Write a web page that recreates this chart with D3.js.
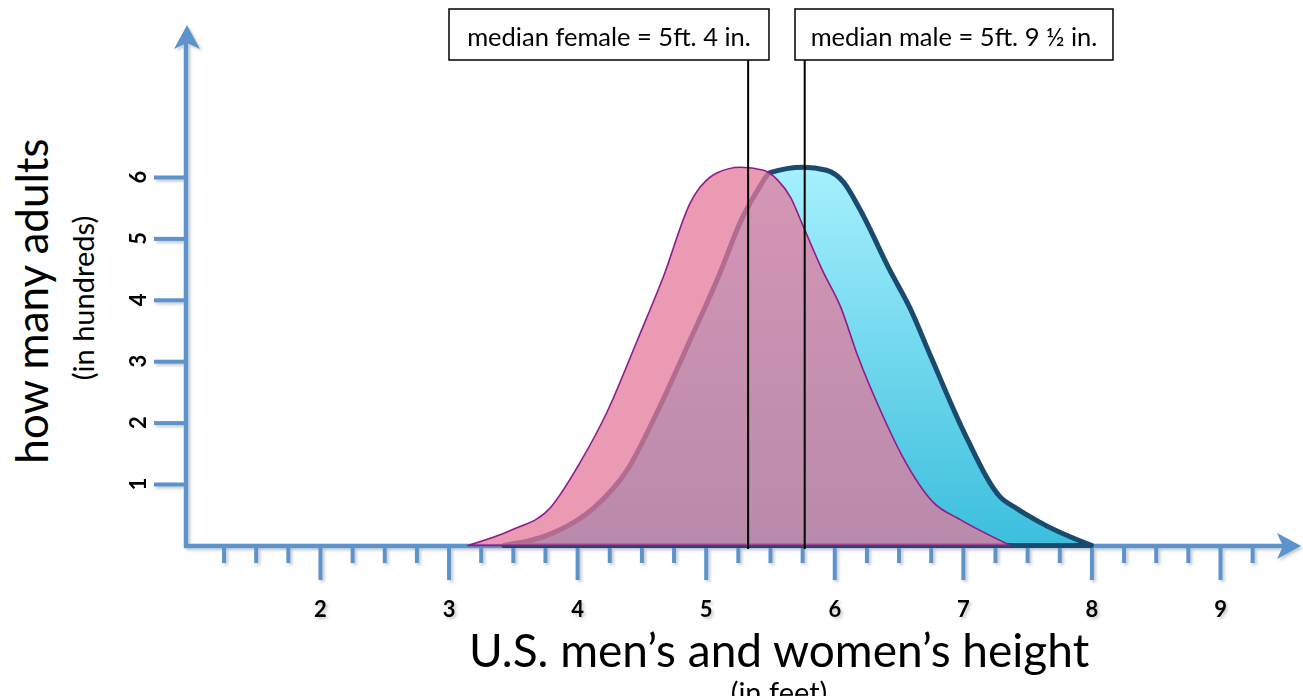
<!DOCTYPE html>
<html><head><meta charset="utf-8">
<script src="https://cdn.jsdelivr.net/npm/d3@7"></script>
<style>html,body{margin:0;padding:0;background:#fff;overflow:hidden}</style>
</head><body>
<svg id="c" width="1303" height="696"></svg>
<script>
// ---- data ----
const xTickValues = [2, 3, 4, 5, 6, 7, 8, 9];
const xTickLabels = ["2", "3", "4", "5", "6", "7", "8", "9"];
const yTickValues = [1, 2, 3, 4, 5, 6];
const yTickLabels = ["1", "2", "3", "4", "5", "6"];
const femaleHeight = [3.15, 3.49, 3.79, 4.02, 4.23, 4.47, 4.67, 4.88, 5.09, 5.27, 5.45, 5.56, 5.66, 5.76, 5.91, 6.05, 6.18, 6.38, 6.53, 6.77, 6.98, 7.37];
const femaleCount  = [0.00, 0.25, 0.61, 1.34, 2.16, 3.35, 4.37, 5.58, 6.07, 6.16, 6.11, 5.95, 5.67, 5.19, 4.47, 3.88, 3.10, 2.10, 1.45, 0.70, 0.42, 0.00];
const maleHeight = [3.43, 3.81, 4.13, 4.39, 4.62, 4.88, 5.09, 5.29, 5.42, 5.50, 5.76, 5.94, 6.07, 6.20, 6.43, 6.59, 6.75, 7.03, 7.29, 7.42, 7.64, 8.00];
const maleCount  = [0.00, 0.20, 0.61, 1.23, 2.16, 3.35, 4.33, 5.36, 5.84, 6.07, 6.16, 6.11, 5.92, 5.47, 4.49, 3.86, 3.08, 1.75, 0.79, 0.60, 0.33, 0.00];
const medianLabels = ["median female = 5ft. 4 in.", "median male = 5ft. 9 \u00BD in."];
const medianValues = [5.33, 5.77];
const xTitle = "U.S. men\u2019s and women\u2019s height";
const xSubtitle = "(in feet)";
const yTitle = "how many adults";
const ySubtitle = "(in hundreds)";

// ---- layout ----
const FONT = "Lato, 'Open Sans', sans-serif";
const AXIS = "#5b93cb";
const svg = d3.select("#c");
const x = d3.scaleLinear().domain([1, 9]).range([191.4, 1220]);
const y = d3.scaleLinear().domain([0, 6]).range([545.4, 177]);
const originX = 186, originY = 546;

const defs = svg.append("defs");
const f = defs.append("filter").attr("id", "sh").attr("x", "-5%").attr("y", "-5%").attr("width", "110%").attr("height", "110%");
f.append("feDropShadow").attr("dx", 2).attr("dy", 2).attr("stdDeviation", 1.5).attr("flood-color", "#000").attr("flood-opacity", 0.22);
const g = defs.append("linearGradient").attr("id", "blueGrad").attr("gradientUnits", "userSpaceOnUse")
  .attr("x1", 0).attr("x2", 0).attr("y1", y(6.16)).attr("y2", originY);
g.append("stop").attr("offset", "0%").attr("stop-color", "#a6f0fd");
g.append("stop").attr("offset", "100%").attr("stop-color", "#3bbfdd");

// ---- axes ----
const ax = svg.append("g").attr("filter", "url(#sh)");
const minorTicks = d3.range(1.25, 9.5, 0.25).filter(v => Math.abs(v - Math.round(v)) > 1e-6);
const minorAxis = ax.append("g").attr("transform", `translate(0,${originY})`)
  .call(d3.axisBottom(x).tickValues(minorTicks).tickSize(17).tickFormat(""));
const majorAxis = ax.append("g").attr("transform", `translate(0,${originY})`)
  .call(d3.axisBottom(x).tickValues(xTickValues).tickSize(34).tickPadding(21)
    .tickFormat((d, i) => xTickLabels[i]));
const yAxis = ax.append("g").attr("transform", `translate(${originX},0)`)
  .call(d3.axisLeft(y).tickValues(yTickValues).tickSize(32).tickFormat(""));
[minorAxis, majorAxis, yAxis].forEach(a => {
  a.select(".domain").remove();
  a.selectAll(".tick line").attr("stroke", AXIS).attr("stroke-width", 4);
});
majorAxis.selectAll(".tick text").attr("fill", "#000").attr("font-family", FONT)
  .attr("font-weight", "bold").attr("font-size", 22);

// axis lines with arrows
ax.append("line").attr("x1", originX).attr("y1", originY + 2).attr("x2", originX).attr("y2", 40)
  .attr("stroke", AXIS).attr("stroke-width", 4.5);
ax.append("line").attr("x1", originX - 2).attr("y1", originY).attr("x2", 1286).attr("y2", originY)
  .attr("stroke", AXIS).attr("stroke-width", 4.5);
ax.append("path").attr("d", `M${originX + 1},25 L${originX + 14},49 L${originX + 1},43 L${originX - 12},49 Z`).attr("fill", AXIS);
ax.append("path").attr("d", `M1301,${originY} L1277,${originY + 13} L1283,${originY} L1277,${originY - 13} Z`).attr("fill", AXIS);

// y tick labels (rotated)
svg.append("g").selectAll("text").data(yTickValues).join("text")
  .attr("transform", d => `translate(137,${y(d)}) rotate(-90)`)
  .attr("text-anchor", "middle").attr("dominant-baseline", "central")
  .attr("font-family", FONT).attr("font-weight", "bold").attr("font-size", 22)
  .text((d, i) => yTickLabels[i]);

// ---- distributions ----
const area = d3.area().x(d => x(d[0])).y0(y(0)).y1(d => y(d[1])).curve(d3.curveMonotoneX);
const male = maleHeight.map((h, i) => [h, maleCount[i]]);
const female = femaleHeight.map((h, i) => [h, femaleCount[i]]);
svg.append("path").attr("d", area(male) + "Z").attr("fill", "url(#blueGrad)")
  .attr("stroke", "#1a4a6e").attr("stroke-width", 5).attr("stroke-linejoin", "round");
svg.append("path").attr("d", area(female) + "Z").attr("fill", "rgb(228,120,155)").attr("fill-opacity", 0.75)
  .attr("stroke", "#8e1b8c").attr("stroke-width", 1.6).attr("stroke-linejoin", "round");

// ---- medians ----
const boxes = [{x0: 449, x1: 769}, {x0: 795, x1: 1113}];
medianValues.forEach((m, i) => {
  svg.append("line").attr("x1", x(m)).attr("x2", x(m)).attr("y1", 60).attr("y2", originY + 3)
    .attr("stroke", "#000").attr("stroke-width", 2);
  svg.append("rect").attr("x", boxes[i].x0).attr("y", 9).attr("width", boxes[i].x1 - boxes[i].x0).attr("height", 51)
    .attr("fill", "#fff").attr("stroke", "#000").attr("stroke-width", 1.5);
  svg.append("text").attr("x", (boxes[i].x0 + boxes[i].x1) / 2).attr("y", 36)
    .attr("text-anchor", "middle").attr("dominant-baseline", "central")
    .attr("font-family", FONT).attr("font-size", 25.5).text(medianLabels[i]);
});

// ---- titles ----
svg.append("text").attr("x", 779).attr("y", 667).attr("text-anchor", "middle")
  .attr("font-family", FONT).attr("font-size", 46).text(xTitle);
svg.append("text").attr("x", 779).attr("y", 703).attr("text-anchor", "middle")
  .attr("font-family", FONT).attr("font-size", 29).text(xSubtitle);
svg.append("text").attr("transform", "translate(48,301) rotate(-90)").attr("text-anchor", "middle")
  .attr("font-family", FONT).attr("font-size", 44).text(yTitle);
svg.append("text").attr("transform", "translate(94,298) rotate(-90)").attr("text-anchor", "middle")
  .attr("font-family", FONT).attr("font-size", 29).text(ySubtitle);
</script>
</body></html>
